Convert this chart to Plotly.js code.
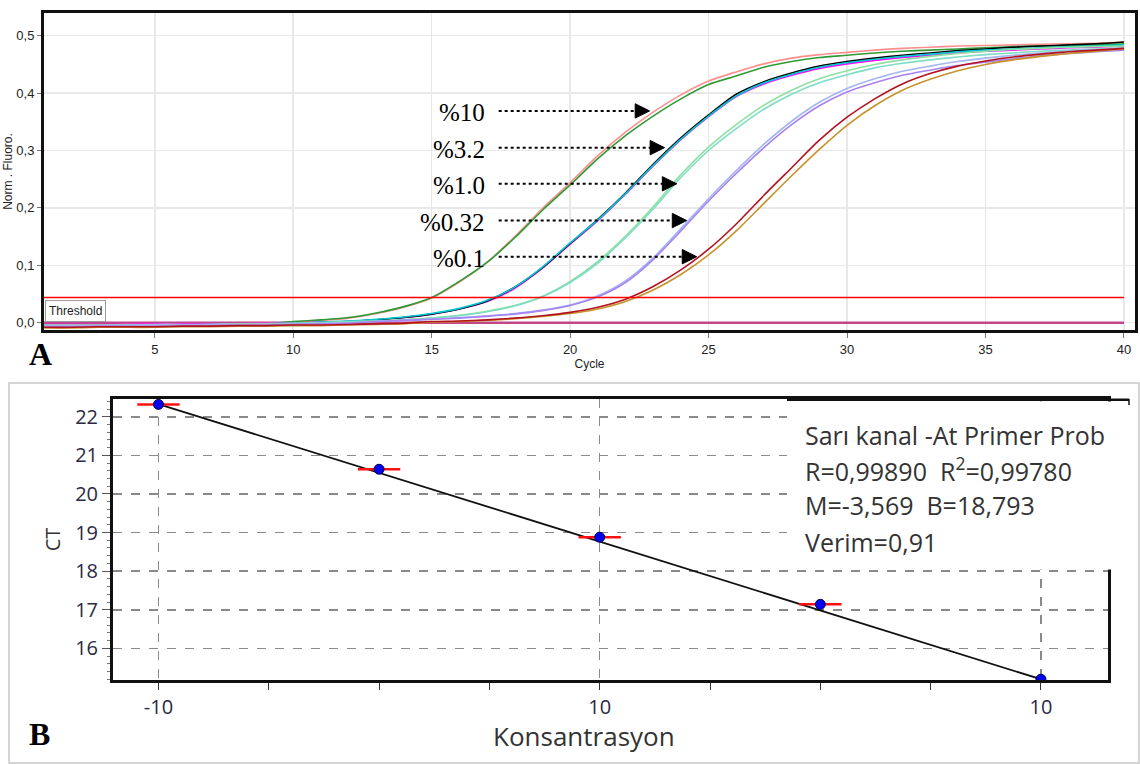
<!DOCTYPE html>
<html><head><meta charset="utf-8">
<script src="https://cdn.plot.ly/plotly-3.0.1.min.js"></script>
<style>html,body{margin:0;padding:0;background:#fff}#chart{width:1140px;height:764px}</style>
</head><body><div id="chart"></div>
<script>
// ---------- Panel A data (Norm. Fluoro. per cycle) ----------
const cycles = [1,2,3,4,5,6,7,8,9,10,11,12,13,14,15,16,17,18,19,20,21,22,23,24,25,26,27,28,29,30,31,32,33,34,35,36,37,38,39,40];
const pink10 = [-0.004,-0.004,-0.004,-0.003,-0.003,-0.003,-0.002,-0.002,-0.001,0.001,0.004,0.008,0.016,0.027,0.043,0.071,0.105,0.150,0.199,0.244,0.291,0.332,0.367,0.397,0.421,0.437,0.451,0.461,0.467,0.471,0.475,0.478,0.480,0.482,0.483,0.484,0.485,0.486,0.487,0.489];
const green10 = [-0.006,-0.006,-0.005,-0.005,-0.004,-0.004,-0.003,-0.003,-0.002,0.002,0.005,0.009,0.017,0.028,0.044,0.072,0.105,0.148,0.196,0.240,0.286,0.326,0.360,0.390,0.415,0.430,0.445,0.455,0.462,0.466,0.470,0.473,0.475,0.477,0.479,0.481,0.482,0.483,0.484,0.486];
const black32 = [-0.007,-0.007,-0.006,-0.006,-0.005,-0.005,-0.004,-0.004,-0.003,-0.002,0.000,0.002,0.005,0.009,0.015,0.024,0.038,0.062,0.096,0.138,0.180,0.226,0.276,0.322,0.362,0.398,0.420,0.435,0.447,0.455,0.461,0.466,0.470,0.474,0.477,0.480,0.482,0.484,0.486,0.489];
const cyan32 = [-0.005,-0.005,-0.005,-0.004,-0.004,-0.004,-0.003,-0.003,-0.002,-0.001,0.001,0.003,0.006,0.010,0.016,0.025,0.039,0.062,0.097,0.139,0.179,0.225,0.274,0.320,0.360,0.395,0.418,0.433,0.445,0.453,0.459,0.464,0.468,0.472,0.475,0.477,0.479,0.481,0.482,0.484];
const magenta32 = [-0.003,-0.003,-0.003,-0.003,-0.002,-0.002,-0.002,-0.002,-0.001,-0.001,0.001,0.002,0.005,0.009,0.015,0.024,0.037,0.060,0.095,0.137,0.178,0.224,0.273,0.319,0.359,0.394,0.416,0.431,0.443,0.451,0.457,0.462,0.466,0.470,0.473,0.475,0.477,0.479,0.480,0.482];
const aqua10 = [-0.006,-0.006,-0.005,-0.005,-0.005,-0.004,-0.004,-0.003,-0.003,-0.002,0.000,0.001,0.003,0.005,0.008,0.012,0.019,0.029,0.045,0.070,0.104,0.148,0.198,0.253,0.300,0.338,0.372,0.398,0.418,0.432,0.444,0.452,0.458,0.463,0.467,0.470,0.473,0.475,0.477,0.479];
const lightgreen10 = [-0.004,-0.004,-0.004,-0.004,-0.003,-0.003,-0.003,-0.002,-0.002,-0.001,0.000,0.002,0.003,0.005,0.008,0.013,0.020,0.030,0.046,0.072,0.107,0.151,0.202,0.258,0.306,0.345,0.379,0.405,0.425,0.439,0.450,0.458,0.464,0.469,0.473,0.476,0.478,0.480,0.481,0.482];
const purple032 = [-0.007,-0.007,-0.006,-0.006,-0.006,-0.005,-0.005,-0.004,-0.004,-0.003,-0.002,-0.001,0.002,0.004,0.006,0.008,0.011,0.015,0.021,0.030,0.045,0.070,0.110,0.160,0.212,0.260,0.305,0.345,0.378,0.402,0.418,0.431,0.440,0.448,0.454,0.460,0.465,0.469,0.472,0.475];
const lightblue032 = [-0.005,-0.005,-0.005,-0.004,-0.004,-0.004,-0.003,-0.003,-0.003,-0.002,-0.001,0.000,0.002,0.004,0.006,0.009,0.012,0.016,0.022,0.031,0.047,0.073,0.113,0.164,0.216,0.265,0.311,0.351,0.384,0.408,0.425,0.438,0.447,0.455,0.461,0.466,0.470,0.473,0.476,0.478];
const red01 = [-0.008,-0.008,-0.007,-0.007,-0.007,-0.006,-0.006,-0.005,-0.005,-0.004,-0.004,-0.003,-0.002,-0.001,0.002,0.003,0.005,0.008,0.012,0.018,0.027,0.041,0.063,0.092,0.128,0.172,0.222,0.270,0.318,0.358,0.390,0.416,0.434,0.447,0.456,0.463,0.468,0.472,0.475,0.478];
const gold01 = [-0.009,-0.009,-0.008,-0.008,-0.008,-0.007,-0.007,-0.006,-0.006,-0.005,-0.005,-0.004,-0.003,-0.002,0.001,0.002,0.004,0.007,0.011,0.016,0.024,0.037,0.057,0.084,0.118,0.160,0.208,0.256,0.302,0.344,0.378,0.405,0.424,0.439,0.450,0.458,0.464,0.469,0.473,0.477];
const ntc = [0,0,0,0,0,0,0,0,0,0,0,0,0,0,0,0,0,0,0,0,0,0,0,0,0,0,0,0,0,0,0,0,0,0,0,0,0,0,0,0];
const thresholdValue = 0.044;
const thresholdX = [1, 40];

const dilutionLabels = ['%10', '%3.2', '%1.0', '%0.32', '%0.1'];
const labelLevels = [0.369, 0.305, 0.242, 0.178, 0.115];
const arrowTips = [22.87, 23.41, 23.85, 24.21, 24.57];

// ---------- Panel B data (standard curve) ----------
const concX = [-10, -5, 0, 5, 10];
const ctValues = [22.32, 20.64, 18.88, 17.14, 15.20];
const ctErr = [0.48, 0.48, 0.48, 0.48, 0];
const fitX = [-10, 10];
const fitY = [22.33, 15.20];
const concTickVals = [-10, 0, 10];
const concTickText = ['-10', '10', '10'];
const statsLines = ['Sarı kanal -At Primer Prob', 'R=0,99890\u00a0\u00a0R<sup>2</sup>=0,99780', 'M=-3,569\u00a0\u00a0B=18,793', 'Verim=0,91'];

// ---------- build ----------
const W = 1140, H = 764;
const px = x => x / W;
const py = y => 1 - y / H;

const seriesA = [
  {y: pink10, c: '#ff8f8f'}, {y: green10, c: '#2f9a35'},
  {y: magenta32, c: '#ff00ff'}, {y: black32, c: '#000000'}, {y: cyan32, c: '#00c8d2'},
  {y: lightgreen10, c: '#8ee0a0'}, {y: aqua10, c: '#7fdcc6'},
  {y: lightblue032, c: '#a2b6f0'}, {y: purple032, c: '#a882f0'},
  {y: gold01, c: '#c8922c'}, {y: red01, c: '#b3121f'}
];

const traces = [];
traces.push({x: cycles, y: ntc, xaxis: 'x', yaxis: 'y', mode: 'lines', line: {color: '#c2468a', width: 2.5}, hoverinfo: 'skip'});
seriesA.forEach(s => traces.push({x: cycles, y: s.y, xaxis: 'x', yaxis: 'y', mode: 'lines',
  line: {color: s.c, width: 1.6, shape: 'spline', smoothing: 0.7}, hoverinfo: 'skip'}));
traces.push({x: thresholdX, y: [thresholdValue, thresholdValue], xaxis: 'x', yaxis: 'y', mode: 'lines',
  line: {color: '#ff0000', width: 1.6}, hoverinfo: 'skip'});

traces.push({x: fitX, y: fitY, xaxis: 'x2', yaxis: 'y2', mode: 'lines', line: {color: '#111', width: 1.8}, hoverinfo: 'skip'});
traces.push({x: concX, y: ctValues, xaxis: 'x2', yaxis: 'y2', mode: 'markers',
  marker: {symbol: 'circle', size: 10, color: '#0000ee', line: {color: '#000050', width: 1}},
  error_x: {type: 'data', array: ctErr, visible: true, color: '#ff1010', thickness: 2.5, width: 0}, hoverinfo: 'skip'});

const narrow = 'Liberation Sans Narrow, Arial Narrow, Liberation Sans, Arial, sans-serif';
const shapes = [];
const annotations = [];

// panel B frame
shapes.push({type: 'rect', xref: 'paper', yref: 'paper', x0: px(9), x1: px(1139), y0: py(763), y1: py(383),
  line: {color: '#c8c8c8', width: 1.5}, layer: 'below'});

// arrows in panel A
dilutionLabels.forEach((t, i) => {
  const v = labelLevels[i], tip = arrowTips[i];
  shapes.push({type: 'line', xref: 'x', yref: 'y', x0: 17.42, x1: tip - 0.5, y0: v, y1: v,
    line: {color: '#000', width: 2, dash: 'dot'}});
  shapes.push({type: 'path', xref: 'x', yref: 'y',
    path: `M ${tip} ${v} L ${tip - 0.52} ${v + 0.0125} L ${tip - 0.52} ${v - 0.0125} Z`,
    fillcolor: '#000', line: {color: '#000', width: 1}});
  annotations.push({xref: 'x', yref: 'y', x: 16.99, y: v, xanchor: 'right', yanchor: 'middle', yshift: -2,
    text: t, showarrow: false, font: {family: 'Liberation Serif, Times New Roman, serif', size: 25, color: '#000'}});
});

annotations.push({xref: 'x', yref: 'y', x: 1.03, y: 0.001, xanchor: 'left', yanchor: 'bottom', text: 'Threshold',
  showarrow: false, font: {family: narrow, size: 12, color: '#222'}, bgcolor: '#fff', bordercolor: '#9a9a9a', borderwidth: 1, borderpad: 3});

// panel letters
annotations.push({xref: 'paper', yref: 'paper', x: px(40), y: py(354), xanchor: 'center', yanchor: 'middle', text: '<b>A</b>',
  showarrow: false, font: {family: 'Liberation Serif, Times New Roman, serif', size: 32, color: '#000'}});
annotations.push({xref: 'paper', yref: 'paper', x: px(39), y: py(734), xanchor: 'center', yanchor: 'middle', text: '<b>B</b>',
  showarrow: false, font: {family: 'Liberation Serif, Times New Roman, serif', size: 32, color: '#000'}});

// x title of panel B (placed where the reference has it)
annotations.push({xref: 'paper', yref: 'paper', x: px(584), y: py(736), xanchor: 'center', yanchor: 'middle', text: 'Konsantrasyon',
  showarrow: false, font: {family: 'Open Sans, Noto Sans, sans-serif', size: 26, color: '#333'}});

// stats box in panel B
shapes.push({type: 'rect', xref: 'paper', yref: 'paper', x0: px(787), x1: px(1133), y0: py(569.5), y1: py(401.5),
  fillcolor: '#ffffff', line: {width: 0}, layer: 'above'});
shapes.push({type: 'line', xref: 'paper', yref: 'paper', x0: px(787), x1: px(1129), y0: py(399.8), y1: py(399.8),
  line: {color: '#111', width: 2.5}, layer: 'above'});
shapes.push({type: 'line', xref: 'paper', yref: 'paper', x0: px(1129), x1: px(1129), y0: py(399), y1: py(405),
  line: {color: '#111', width: 1.5}, layer: 'above'});
const statsY = [435, 469, 505, 541.5];
statsLines.forEach((t, i) => annotations.push({xref: 'paper', yref: 'paper', x: px(803), y: py(statsY[i]),
  xanchor: 'left', yanchor: 'middle', text: t, showarrow: false, font: {family: 'Open Sans, Noto Sans, sans-serif', size: 25, color: '#333'}}));

const layout = {
  width: W, height: H, margin: {l: 0, r: 0, t: 0, b: 0}, showlegend: false,
  paper_bgcolor: '#fff', plot_bgcolor: '#fff', separators: ',.',
  xaxis: {domain: [px(44), px(1135)], range: [1, 40.4], anchor: 'y', tick0: 0, dtick: 5,
    showgrid: true, gridcolor: '#e8e8e8', gridwidth: 1.5, zeroline: false,
    showline: true, mirror: true, linecolor: '#111', linewidth: 3,
    ticks: 'outside', ticklen: 5, tickcolor: '#777', tickfont: {family: narrow, size: 13, color: '#222'},
    title: {text: 'Cycle', font: {family: narrow, size: 12, color: '#222'}, standoff: 5}},
  yaxis: {domain: [py(330), py(13)], range: [-0.0127, 0.5396], anchor: 'x', tick0: 0, dtick: 0.1, tickformat: '.1f',
    showgrid: true, gridcolor: '#e8e8e8', gridwidth: 1.5, zeroline: false,
    showline: true, mirror: true, linecolor: '#111', linewidth: 3,
    ticks: 'outside', ticklen: 4, tickcolor: '#777', tickfont: {family: narrow, size: 13, color: '#222'},
    title: {text: 'Norm . Fluoro.', font: {family: narrow, size: 12, color: '#222'}, standoff: 2}},
  xaxis2: {domain: [px(113), px(1108)], range: [-11.03, 11.52], anchor: 'y2',
    tickmode: 'array', tickvals: concTickVals, ticktext: concTickText,
    showgrid: true, gridcolor: '#8a8a8a', gridwidth: 1.5, griddash: 'dash', zeroline: false,
    showline: true, mirror: true, linecolor: '#111', linewidth: 3,
    ticks: 'outside', ticklen: 7, tickcolor: '#333', tickfont: {family: 'Open Sans, Noto Sans, sans-serif', size: 20, color: '#2a2a44'},
    minor: {tick0: 0, dtick: 2.5, ticks: 'outside', ticklen: 7, tickcolor: '#333', showgrid: false}},
  yaxis2: {domain: [py(680), py(399)], range: [15.18, 22.46], anchor: 'x2', tick0: 0, dtick: 1,
    showgrid: true, gridcolor: '#8a8a8a', gridwidth: 1.5, griddash: 'dash', zeroline: false,
    showline: true, mirror: true, linecolor: '#111', linewidth: 3,
    ticks: 'outside', ticklen: 8, tickcolor: '#555', tickfont: {family: 'Open Sans, Noto Sans, sans-serif', size: 20, color: '#2a2a44'},
    minor: {tick0: 0, dtick: 0.2, ticks: 'outside', ticklen: 3, tickcolor: '#777', showgrid: false},
    title: {text: 'CT', font: {family: 'Open Sans, Noto Sans, sans-serif', size: 20, color: '#333'}, standoff: 10}},
  shapes: shapes, annotations: annotations
};

Plotly.newPlot('chart', traces, layout, {staticPlot: true, displayModeBar: false});
</script>
</body></html>
